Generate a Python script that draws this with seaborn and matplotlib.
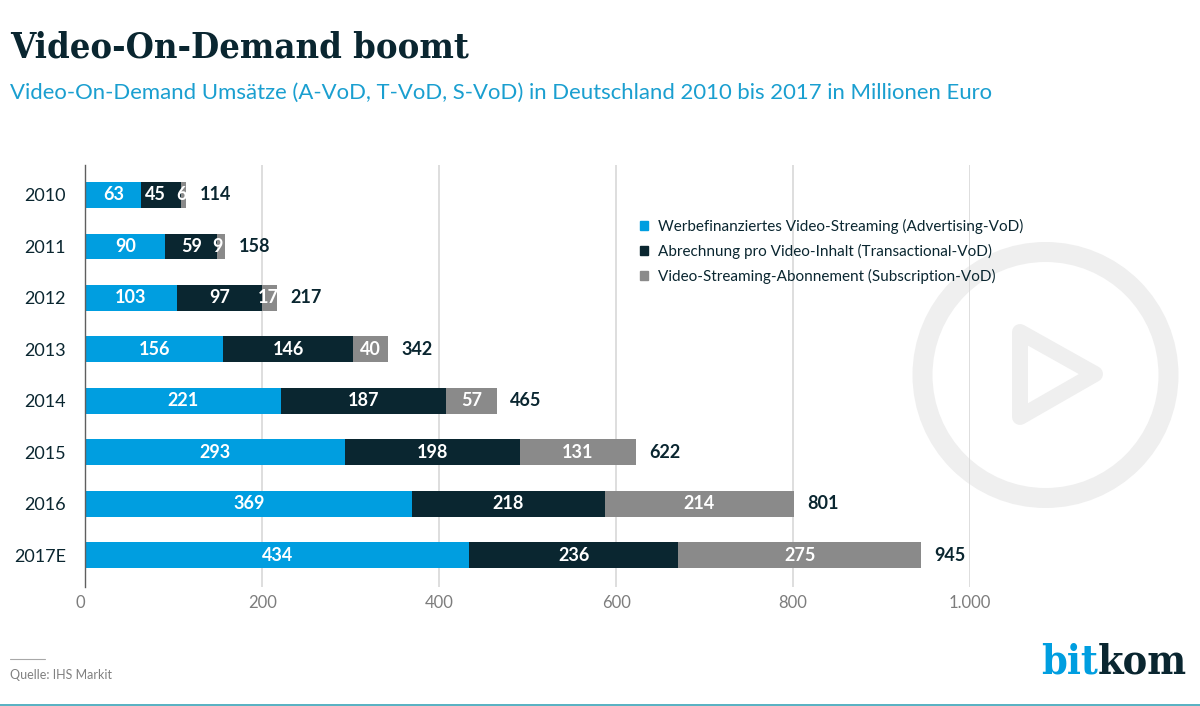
import matplotlib
matplotlib.use('Agg')
import matplotlib.pyplot as plt
from matplotlib.patches import Circle, Patch, Polygon
from matplotlib.transforms import Affine2D
import pandas as pd
import seaborn as sns

# Values
years = ['2010', '2011', '2012', '2013', '2014', '2015', '2016', '2017E']
advertising = [63, 90, 103, 156, 221, 293, 369, 434]
transactional = [45, 59, 97, 146, 187, 198, 218, 236]
subscription = [6, 9, 17, 40, 57, 131, 214, 275]
totals = [114, 158, 217, 342, 465, 622, 801, 945]
x_ticks = [0, 200, 400, 600, 800, 1000]
x_tick_labels = ['0', '200', '400', '600', '800', '1.000']
legend_labels = ['Werbefinanziertes Video-Streaming (Advertising-VoD)',
                 'Abrechnung pro Video-Inhalt (Transactional-VoD)',
                 'Video-Streaming-Abonnement (Subscription-VoD)']

BLUE = '#009ee0'
DARK = '#0a2630'
GREY = '#8a8a8a'
WIDTH, HEIGHT = 1200, 706

sns.set_theme(style='white')
plt.rcParams['font.family'] = ['Lato', 'DejaVu Sans']

data = pd.DataFrame({'year': years, 'advertising': advertising,
                     'transactional': transactional, 'subscription': subscription})
data['end_blue'] = data['advertising']
data['end_dark'] = data['end_blue'] + data['transactional']
data['end_grey'] = data['end_dark'] + data['subscription']

fig = plt.figure(figsize=(WIDTH / 100, HEIGHT / 100), dpi=100, facecolor='white')
# pixel coordinates with the origin at the top left
px = Affine2D().scale(1, -1).translate(0, HEIGHT)

ax = fig.add_axes([85.5 / WIDTH, 1 - 587 / HEIGHT, 884.5 / WIDTH, 422 / HEIGHT])
ax.patch.set_alpha(0)

# Stacked bars: draw the cumulative ends, longest first
for column, color in [('end_grey', GREY), ('end_dark', DARK), ('end_blue', BLUE)]:
    sns.barplot(data=data, x=column, y='year', order=years, color=color,
                saturation=1, width=0.5, ax=ax, linewidth=0)

ax.set_xlim(0, 1000)
ax.set_ylim(7.62, -0.583)
ax.set_xlabel('')
ax.set_ylabel('')
ax.set_xticks(x_ticks)
ax.set_xticklabels(x_tick_labels)
ax.xaxis.grid(True, color='#d8d8d8', linewidth=1.2)
ax.set_axisbelow(True)
ax.tick_params(axis='x', length=0, pad=6, labelsize=12, labelcolor='#7d7d7d')
ax.tick_params(axis='y', length=0, pad=14, labelsize=13, labelcolor=DARK)
for side in ['top', 'right', 'bottom']:
    ax.spines[side].set_visible(False)
ax.spines['left'].set_color('#5f5f5f')
ax.spines['left'].set_linewidth(1)
ax.get_xticklabels()[0].set_ha('right')

# Segment labels, narrow segments in 2010 sit a little off centre
shift_dark = {'2010': -6}
shift_grey = {'2010': -3, '2011': -4, '2012': -2}
for i, row in data.iterrows():
    label_style = dict(color='white', fontsize=13, fontweight='bold', ha='center', va='center')
    ax.text(row['end_blue'] / 2, i, str(row['advertising']), **label_style)
    ax.text((row['end_blue'] + row['end_dark']) / 2 + shift_dark.get(row['year'], 0), i,
            str(row['transactional']), **label_style)
    ax.text((row['end_dark'] + row['end_grey']) / 2 + shift_grey.get(row['year'], 0), i,
            str(row['subscription']), **label_style)
    ax.text(totals[i] + 15, i, str(totals[i]), color=DARK, fontsize=13,
            fontweight='bold', ha='left', va='center')

# Legend
handles = [Patch(color=c) for c in [BLUE, DARK, GREY]]
fig.legend(handles, legend_labels, loc='upper left', bbox_to_anchor=(640 / WIDTH, 1 - 219 / HEIGHT),
           frameon=False, fontsize=11, labelcolor=DARK, handlelength=0.55, handleheight=0.55,
           handletextpad=0.65, labelspacing=0.64, borderpad=0, borderaxespad=0)

# Play symbol watermark
fig.add_artist(Circle((1045.5, 375), 123, transform=px, fill=False, edgecolor='#efefef',
                      linewidth=14.4, zorder=-1))
fig.add_artist(Polygon([(1020, 332), (1095, 374), (1020, 417)], closed=True, transform=px,
                       fill=False, edgecolor='#efefef', linewidth=11.5, joinstyle='round', zorder=-1))

# Heading
fig.text(10, 47, 'Video-On-Demand boomt', transform=px, family='DejaVu Serif', stretch='condensed',
         fontweight='bold', fontsize=26, color=DARK, ha='left', va='center')
fig.text(10, 93, 'Video-On-Demand Umsätze (A-VoD, T-VoD, S-VoD) in Deutschland 2010 bis 2017 in Millionen Euro',
         transform=px, fontsize=15.95, color='#1a9fd0', ha='left', va='center')

# Footer
fig.add_artist(plt.Line2D([10, 45], [659, 659], transform=px, color='#a8a8a8', linewidth=0.8))
fig.text(10, 675, 'Quelle: IHS Markit', transform=px, fontsize=9, color='#808080', ha='left', va='center')
fig.add_artist(plt.Line2D([0, 1200], [705, 705], transform=px, color='#3aa3b8', linewidth=1.2))

# Logo
bit = fig.text(1041, 663, 'bit', transform=px, family='DejaVu Serif', stretch='condensed',
               fontweight='bold', fontsize=29.5, color=BLUE, ha='left', va='center')
fig.canvas.draw()
end = bit.get_window_extent().x1
fig.text(end, 663, 'kom', transform=px, family='DejaVu Serif', stretch='condensed', fontweight='bold',
         fontsize=29.5, color=DARK, ha='left', va='center')

fig.savefig('out.png', dpi=100, facecolor='white')
